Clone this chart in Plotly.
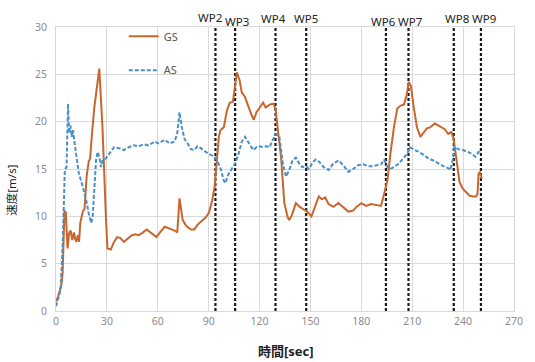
import plotly.graph_objects as go

# ---- data ----
gs_t = [0, 1.2, 2.3, 3.2, 3.9, 4.5, 5.0, 5.8, 6.8, 7.7, 8.6, 9.6, 10.6, 11.3, 12.0, 12.9, 13.6, 14.3,
        15.8, 16.8, 17.4, 18.1, 19.3, 20.1, 21.2, 22.6, 25.5, 27.4, 29.3, 30.3, 32.3, 34.2, 36.1, 38.0,
        40.0, 41.9, 44.8, 46.7, 48.6, 50.5, 53.5, 56.4, 59.3, 61.3, 64.1, 67.0, 69.9, 71.5, 72.8, 74.7,
        76.7, 79.6, 81.5, 83.4, 85.4, 88.3, 90.2, 92.1, 93.5, 94.6, 96.0, 96.9, 98.9, 100.8, 102.4,
        104.3, 105.3, 106.6, 108.2, 109.5, 111.4, 113.4, 115.3, 116.6, 118.2, 120.1, 122.1, 123.6,
        125.9, 128.2, 129.4, 130.8, 132.7, 134.6, 136.6, 137.5, 139.0, 141.4, 143.7, 146.2, 148.1,
        150.6, 152.5, 154.9, 156.8, 158.7, 160.7, 163.6, 166.5, 169.4, 172.3, 175.2, 177.1, 180.0,
        182.9, 185.8, 188.7, 191.6, 193.5, 195.4, 197.4, 199.3, 201.2, 203.2, 205.1, 206.7, 208.0,
        209.3, 210.9, 212.8, 214.8, 216.7, 218.6, 220.5, 223.4, 225.3, 227.3, 229.2, 231.2, 233.1,
        234.4, 236.0, 237.9, 239.9, 241.8, 243.7, 245.7, 247.6, 248.5, 249.1, 249.9, 251.0]
gs_v = [1.0, 1.5, 2.2, 2.8, 4.0, 7.5, 10.6, 10.4, 6.6, 8.2, 8.5, 7.5, 8.3, 7.6, 7.3, 8.0, 7.3, 9.3,
        10.5, 10.8, 13.1, 14.3, 15.8, 16.1, 18.7, 21.5, 25.6, 19.4, 10.5, 6.6, 6.5, 7.3, 7.8, 7.7,
        7.3, 7.6, 8.0, 8.1, 8.0, 8.2, 8.6, 8.2, 7.8, 8.3, 8.9, 8.7, 8.5, 8.3, 11.9, 9.6,
        9.0, 8.6, 8.6, 9.1, 9.4, 9.9, 10.4, 11.7, 13.1, 15.9, 18.4, 19.1, 19.4, 21.2, 22.0,
        22.1, 23.3, 25.2, 24.4, 23.1, 22.6, 21.5, 20.7, 20.2, 21.0, 21.5, 22.0, 21.5,
        21.8, 21.9, 21.4, 19.1, 16.2, 11.4, 9.9, 9.6, 10.1, 11.4, 11.0, 10.7, 10.5,
        10.0, 11.0, 12.1, 11.8, 12.0, 11.3, 11.0, 11.4, 10.9, 10.5, 10.6, 11.0, 11.4,
        11.1, 11.3, 11.2, 11.1, 12.4, 13.8, 17.0, 19.5, 21.4, 21.7, 21.8, 22.8, 24.2,
        23.7, 21.5, 19.4, 18.4, 18.8, 19.3, 19.4, 19.8, 19.6, 19.4, 19.2, 18.7, 18.9,
        18.2, 15.9, 13.6, 12.9, 12.6, 12.2, 12.1, 12.1, 12.4, 14.5, 14.7, 14.0]

as_t = [0, 1.3, 2.7, 3.9, 4.6, 5.2, 6.2, 7.1, 7.7, 8.5, 9.3, 10.0, 11.0, 12.0, 13.5, 14.9, 15.8,
        17.8, 19.3, 20.7, 21.6, 22.6, 23.6, 24.5, 25.5, 26.5, 27.4, 29.3, 31.3, 34.2, 37.1, 40.0,
        42.9, 45.8, 48.6, 51.6, 54.5, 58.3, 60.3, 64.1, 67.0, 69.9, 71.5, 72.8, 74.1, 75.7, 77.6,
        79.6, 81.5, 83.4, 85.4, 88.3, 91.2, 93.5, 95.0, 97.3, 98.9, 99.8, 101.8, 103.7, 105.6,
        107.6, 109.5, 111.4, 112.7, 114.3, 116.3, 118.2, 120.1, 122.1, 124.0, 125.9, 127.8,
        129.8, 131.7, 133.7, 135.6, 137.5, 139.4, 141.4, 143.3, 145.2, 147.2, 149.1, 151.0,
        153.0, 154.9, 157.8, 160.7, 163.6, 166.5, 169.4, 172.3, 175.2, 178.1, 181.0, 183.9,
        186.8, 189.6, 191.6, 193.5, 195.4, 197.0, 199.3, 202.2, 205.1, 207.0, 208.6, 210.9,
        213.8, 216.7, 219.6, 222.5, 225.4, 228.3, 231.2, 232.5, 234.1, 235.0, 237.0, 239.9,
        242.8, 245.2, 247.2, 249.1, 251.0]
as_v = [0.5, 1.2, 2.2, 6.8, 11.7, 14.9, 15.2, 21.9, 18.8, 19.6, 18.4, 19.1, 17.7, 16.6, 14.5, 13.7, 13.1,
        11.7, 10.3, 9.3, 9.9, 12.8, 15.9, 16.8, 16.3, 15.2, 15.9, 16.1, 16.6, 17.3, 17.2, 17.0,
        17.3, 17.5, 17.4, 17.6, 17.5, 17.9, 17.7, 18.1, 17.7, 17.9, 18.8, 21.0, 19.5, 18.2, 17.7,
        17.1, 17.0, 17.4, 17.2, 16.8, 16.5, 16.3, 15.9, 14.9, 13.8, 13.5, 14.5, 15.0, 15.6,
        16.6, 17.9, 18.4, 18.0, 17.5, 17.0, 17.3, 17.4, 17.3, 17.4, 17.3, 18.1,
        18.7, 18.4, 15.6, 14.2, 14.9, 15.9, 16.2, 15.6, 15.2, 15.3, 15.0, 15.6,
        16.0, 15.8, 15.2, 14.9, 15.6, 15.9, 15.4, 14.7, 15.0, 15.4, 15.5, 15.3,
        15.3, 15.4, 15.5, 16.0, 15.2, 15.0, 15.2, 15.6, 16.2, 16.6, 17.3, 17.1,
        16.8, 16.5, 16.1, 15.9, 15.6, 15.3, 15.1, 14.9, 16.1, 17.3, 17.1, 17.0,
        16.8, 16.6, 16.3, 16.8, 16.7]

wp_names = ["WP2", "WP3", "WP4", "WP5", "WP6", "WP7", "WP8", "WP9"]
wp_t = [94.0, 105.6, 129.4, 147.5, 194.5, 207.8, 234.5, 250.5]
wp_label_y = [1.035, 1.020, 1.030, 1.030, 1.021, 1.021, 1.030, 1.030]
wp_label_dx = [-5, 2, -2, 0, -2, 2, 3, 3]

x_ticks = [0, 30, 60, 90, 120, 150, 180, 210, 240, 270]
y_ticks = [0, 5, 10, 15, 20, 25, 30]

GS_COLOR = "#C8662E"
AS_COLOR = "#4A8FC8"
FONT = "Noto Sans, Noto Sans CJK JP, sans-serif"

fig = go.Figure()

# waypoint vertical dashed lines
for name, t in zip(wp_names, wp_t):
    fig.add_trace(go.Scatter(x=[t, t], y=[0, 30], mode="lines",
                             line=dict(color="#1a1a1a", width=2.2, dash="3px,2px"),
                             showlegend=False, hoverinfo="skip"))

fig.add_trace(go.Scatter(x=gs_t, y=gs_v, mode="lines", name="GS",
                         line=dict(color=GS_COLOR, width=2), legend="legend"))
fig.add_trace(go.Scatter(x=as_t, y=as_v, mode="lines", name="AS",
                         line=dict(color=AS_COLOR, width=2, dash="4px,2px"), legend="legend2"))

annotations = []
for name, t, ly, dx in zip(wp_names, wp_t, wp_label_y, wp_label_dx):
    annotations.append(dict(x=t, y=ly, xref="x", yref="paper", text=name, showarrow=False,
                            xshift=dx, yanchor="middle", xanchor="center",
                            font=dict(family=FONT, size=11.5, color="#222222")))
annotations.append(dict(x=-0.099, y=0.426, xref="paper", yref="paper", text="速度[m/s]",
                        textangle=-90, showarrow=False, xanchor="center", yanchor="middle",
                        font=dict(family=FONT, size=11.5, color="#222222")))
annotations.append(dict(x=0.502, y=-0.141, xref="paper", yref="paper", text="<b>時間[sec]</b>",
                        showarrow=False, xanchor="center", yanchor="middle",
                        font=dict(family=FONT, size=13, color="#222222")))

legend_common = dict(bgcolor="rgba(0,0,0,0)", borderwidth=0, xanchor="left", yanchor="middle",
                     font=dict(family=FONT, size=11, color="#555555"), itemwidth=30)

fig.update_layout(
    width=535, height=362,
    margin=dict(l=56, r=13, t=27, b=51),
    paper_bgcolor="white", plot_bgcolor="white",
    font=dict(family=FONT),
    legend=dict(x=0.148, y=0.967, **legend_common),
    legend2=dict(x=0.148, y=0.848, **legend_common),
    annotations=annotations,
    xaxis=dict(range=[0, 270], tickvals=x_ticks, showgrid=True, gridcolor="#d9d9d9", gridwidth=1,
               zeroline=False, showline=True, linecolor="#d9d9d9", mirror=True, ticks="",
               tickfont=dict(family=FONT, size=10.5, color="#8c8c8c")),
    yaxis=dict(range=[0, 30], tickvals=y_ticks, showgrid=True, gridcolor="#d9d9d9", gridwidth=1,
               zeroline=False, showline=True, linecolor="#d9d9d9", mirror=True, ticks="",
               ticklabelstandoff=6,
               tickfont=dict(family=FONT, size=10.5, color="#8c8c8c")),
)

fig.write_html("out.html", config={"displayModeBar": False},
               post_script="document.body.style.margin='0px';document.body.style.overflow='hidden';")
